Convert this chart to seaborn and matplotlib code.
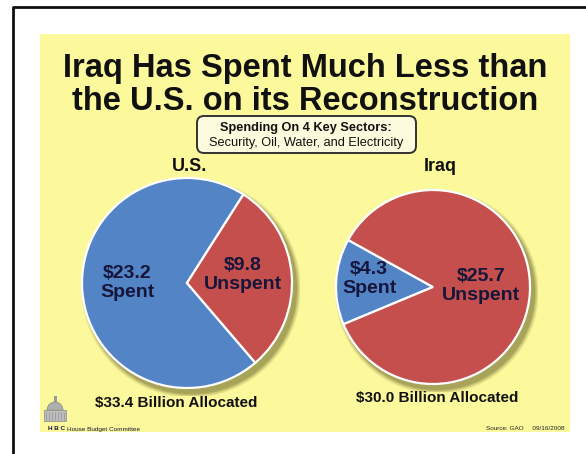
import matplotlib
matplotlib.use("Agg")
import matplotlib.pyplot as plt
import seaborn as sns
import numpy as np
from matplotlib.patches import Rectangle, FancyBboxPatch, Circle, Wedge

sns.set_theme(style="white")
plt.rcParams['font.family'] = ['Liberation Sans', 'DejaVu Sans']

# ---- data ----
countries = ["U.S.", "Iraq"]
segments = ["Spent", "Unspent"]
us_values = [23.2, 9.8]
iraq_values = [4.3, 25.7]
allocated = [33.4, 30.0]
title_lines = ["Iraq Has Spent Much Less than", "the U.S. on its Reconstruction"]
box_lines = ["Spending On 4 Key Sectors:", "Security, Oil, Water, and Electricity"]

W, H = 586, 454
fig = plt.figure(figsize=(W / 100, H / 100), dpi=100)
fig.patch.set_facecolor("white")

bg = fig.add_axes([0, 0, 1, 1])
bg.set_xlim(0, W)
bg.set_ylim(H, 0)
bg.axis("off")

YELLOW = "#FCF89C"
BLUE = "#5384C6"
RED = "#C44F4D"
NAVY = "#16163A"
palette = sns.color_palette([BLUE, RED])

# outer frame
bg.plot([13, 13, W + 5], [H + 5, 7, 7], color="#111111", lw=2, solid_capstyle="butt")
# yellow panel
bg.add_patch(Rectangle((40, 34), 530, 398, facecolor=YELLOW, edgecolor="none"))

# title
bg.text(305, 77, title_lines[0], ha="center", va="baseline", fontsize=23.5,
        fontweight="bold", color="#111111")
bg.text(305, 110, title_lines[1], ha="center", va="baseline", fontsize=23.5,
        fontweight="bold", color="#111111")

# subtitle box
bg.add_patch(FancyBboxPatch((197, 116), 219, 37, boxstyle="round,pad=0,rounding_size=7",
                            facecolor="#FDFBDD", edgecolor="#333333", lw=1.4))
bg.text(306, 131, box_lines[0], ha="center", va="baseline", fontsize=9.2,
        fontweight="bold", color="#111111")
bg.text(306, 146, box_lines[1], ha="center", va="baseline", fontsize=9.2,
        color="#111111")

# country labels
bg.text(190, 171, countries[0], ha="center", va="baseline", fontsize=13,
        fontweight="bold", color="#111111")
bg.text(440, 171, countries[1], ha="center", va="baseline", fontsize=13,
        fontweight="bold", color="#111111")

# allocated labels
bg.text(176, 407, f"${allocated[0]:.1f} Billion Allocated", ha="center", va="baseline",
        fontsize=11, fontweight="bold", color="#111111")
bg.text(437, 402, f"${allocated[1]:.1f} Billion Allocated", ha="center", va="baseline",
        fontsize=11, fontweight="bold", color="#111111")

# footer
bg.text(48, 429, "H B C", ha="left", va="center", fontsize=4.6, fontweight="bold", color=NAVY)
bg.text(67, 429, "House Budget Committee", ha="left", va="center", fontsize=4.6, color=NAVY)
bg.text(565, 429, "Source: GAO     09/16/2008", ha="right", va="center", fontsize=4.6,
        color="#222222")

# little capitol icon
bg.add_patch(Rectangle((53.5, 396), 3, 6, facecolor="#9A9A9A", edgecolor="none"))
bg.add_patch(Wedge((55, 410), 8, 180, 360, facecolor="#AFAFAF", edgecolor="#8a8a8a", lw=0.5))
bg.add_patch(Rectangle((44, 410), 22, 11, facecolor="#BDBDBD", edgecolor="#8a8a8a", lw=0.5))
for xx in range(46, 66, 3):
    bg.plot([xx, xx], [412, 420], color="#888888", lw=0.4)


def draw_pie(cx, cy, r, values, startangle, label_r, value_labels):
    pad = 8
    ax = fig.add_axes([(cx - r - pad) / W, (H - cy - r - pad) / H,
                       2 * (r + pad) / W, 2 * (r + pad) / H])
    lim = 1 + pad / r
    # soft shadow
    for k, a in enumerate([0.10, 0.14, 0.18, 0.26]):
        rad = 1 + (4 - k) * 1.2 / r
        ax.add_patch(Circle((4 / r, -5 / r), rad, facecolor="#5E5A20", alpha=a,
                            edgecolor="none", zorder=0))
    wedges, _ = ax.pie(values, colors=palette, startangle=startangle, counterclock=True,
                       radius=1.0, wedgeprops=dict(edgecolor="white", linewidth=1.6))
    for w in wedges:
        w.set_zorder(2)
    for w, lr, txt in zip(wedges, label_r, value_labels):
        mid = np.deg2rad((w.theta1 + w.theta2) / 2)
        ax.text(lr * np.cos(mid), lr * np.sin(mid) + 4 / r, txt, ha="center", va="center",
                fontsize=14, fontweight="bold", color=NAVY, linespacing=1.15, zorder=3)
    ax.set_xlim(-lim, lim)
    ax.set_ylim(-lim, lim)
    ax.set_aspect("equal")
    ax.axis("off")
    return ax


us_labels = [f"${v:.1f}\n{s}" for v, s in zip(us_values, segments)]
iraq_labels = [f"${v:.1f}\n{s}" for v, s in zip(iraq_values, segments)]

draw_pie(187, 283, 105, us_values, 57.5, [0.57, 0.53], us_labels)
draw_pie(433, 287, 97, iraq_values, 151, [0.66, 0.50], iraq_labels)

fig.savefig("out.png", dpi=100, facecolor="white")
